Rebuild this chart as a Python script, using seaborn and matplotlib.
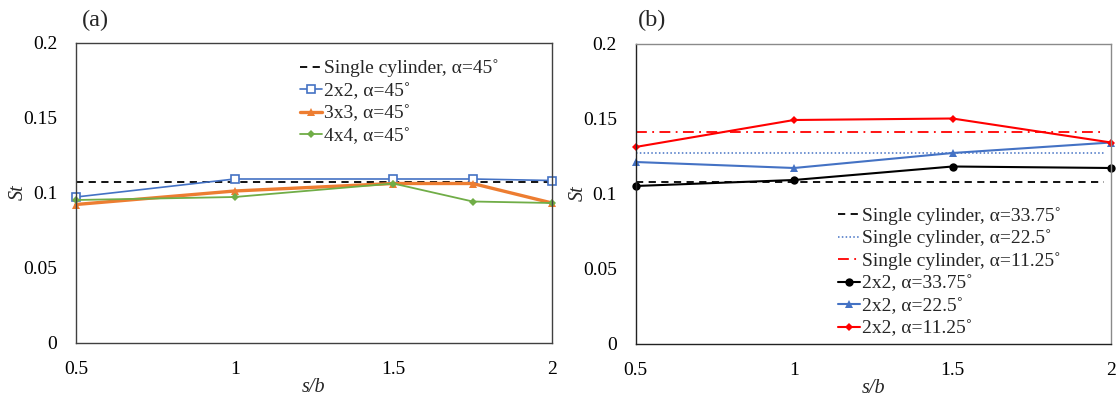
import numpy as np
import pandas as pd
import seaborn as sns
import matplotlib
matplotlib.use("Agg")
import matplotlib.pyplot as plt

# ---------------- data ----------------
x_a = [0.5, 1.0, 1.5, 1.75, 2.0]
st_2x2_45 = [0.097, 0.109, 0.109, 0.109, 0.108]
st_3x3_45 = [0.092, 0.101, 0.106, 0.106, 0.093]
st_4x4_45 = [0.095, 0.097, 0.106, 0.094, 0.093]
single_45 = 0.107

x_b = [0.5, 1.0, 1.5, 2.0]
st_2x2_3375 = [0.105, 0.109, 0.118, 0.117]
st_2x2_225 = [0.121, 0.117, 0.127, 0.134]
st_2x2_1125 = [0.131, 0.149, 0.150, 0.134]
single_3375 = 0.108
single_225 = 0.127
single_1125 = 0.141

yticks = [0, 0.05, 0.1, 0.15, 0.2]
ytick_labels = ["0", "0.05", "0.1", "0.15", "0.2"]
xticks = [0.5, 1, 1.5, 2]
xtick_labels = ["0.5", "1", "1.5", "2"]

# ---------------- style ----------------
sns.set_theme(style="white")
plt.rcParams["font.family"] = ["Liberation Serif", "DejaVu Serif"]

BLUE = "#4472C4"
ORANGE = "#ED7D31"
GREEN = "#70AD47"
RED = "#FF0000"
FS_TICK = 14
FS_LEG = 14
FS_LAB = 14.5
DEG = "\u02DA"

fig = plt.figure(figsize=(11.16, 3.97), dpi=100)
W, H = 1116, 397
ax_a = fig.add_axes([76 / W, 1 - 342.5 / H, (552 - 76) / W, (342.5 - 42.5) / H])
ax_b = fig.add_axes([635.5 / W, 1 - 343.5 / H, (1111 - 635.5) / W, (343.5 - 43.5) / H])


def style_ax(ax, label, lx, strong_lb):
    ax.set_xlim(0.5, 2)
    ax.set_ylim(0, 0.2)
    ax.set_xticks(xticks)
    ax.set_xticklabels(xtick_labels, fontsize=FS_TICK)
    ax.set_yticks(yticks)
    ax.set_yticklabels(ytick_labels, fontsize=FS_TICK)
    ax.tick_params(length=0, pad=13.5, colors="black")
    for name, s in ax.spines.items():
        if strong_lb and name in ("left", "bottom"):
            s.set_color("#222222")
        elif strong_lb:
            s.set_color("#8a8a8a")
        else:
            s.set_color("#404040")
        s.set_linewidth(1.0)
    ax.set_xlabel("s/b", fontsize=FS_LAB, style="italic", labelpad=0)
    ax.set_ylabel("St", fontsize=FS_LAB, style="italic", labelpad=-3.5)
    fig.text(lx / W, 1 - 20 / H, label, fontsize=17.5, ha="left", va="center")


leg_kw = dict(loc="upper left", frameon=False, fontsize=FS_LEG,
              handlelength=1.15, handletextpad=0.08, labelspacing=0.25,
              borderpad=0, borderaxespad=0)

# ---------------- panel (a) ----------------
ax = ax_a
ax.axhline(single_45, color="black", ls=(0, (4, 3)), lw=1.3,
           label=f"Single cylinder, α=45{DEG}")
sns.lineplot(x=x_a, y=st_2x2_45, ax=ax, color=BLUE, lw=1.2, marker="s",
             markersize=6, markerfacecolor="white", markeredgecolor=BLUE,
             markeredgewidth=1.2, label=f"2x2, α=45{DEG}")
sns.lineplot(x=x_a, y=st_3x3_45, ax=ax, color=ORANGE, lw=2.4, marker="^",
             markersize=6, markeredgewidth=0, label=f"3x3, α=45{DEG}")
sns.lineplot(x=x_a, y=st_4x4_45, ax=ax, color=GREEN, lw=1.3, marker="D",
             markersize=4, markeredgewidth=0, label=f"4x4, α=45{DEG}")
for l in ax.lines:
    l.set_clip_on(False)
style_ax(ax, "(a)", 82, False)
ax.legend(bbox_to_anchor=(0.4706, 0.943), **leg_kw)

# ---------------- panel (b) ----------------
ax = ax_b
ax.axhline(single_3375, color="black", ls=(0, (4, 3)), lw=1.3,
           xmax=0.985, label=f"Single cylinder, α=33.75{DEG}")
ax.axhline(single_225, color=BLUE, ls=(0, (1, 1.5)), lw=1.1,
           xmax=0.985, label=f"Single cylinder, α=22.5{DEG}")
ax.axhline(single_1125, color=RED, ls=(0, (6, 3, 1, 3)), lw=1.3,
           xmax=0.985, label=f"Single cylinder, α=11.25{DEG}")
sns.lineplot(x=x_b, y=st_2x2_3375, ax=ax, color="black", lw=1.5, marker="o",
             markersize=6, markeredgewidth=0, label=f"2x2, α=33.75{DEG}")
sns.lineplot(x=x_b, y=st_2x2_225, ax=ax, color=BLUE, lw=1.5, marker="^",
             markersize=6, markeredgewidth=0, label=f"2x2, α=22.5{DEG}")
sns.lineplot(x=x_b, y=st_2x2_1125, ax=ax, color=RED, lw=1.5, marker="D",
             markersize=4.5, markeredgewidth=0, label=f"2x2, α=11.25{DEG}")
for l in ax.lines:
    l.set_clip_on(False)
style_ax(ax, "(b)", 638, True)
ax.legend(bbox_to_anchor=(0.426, 0.456), **leg_kw)

fig.savefig("out.png", dpi=100)
